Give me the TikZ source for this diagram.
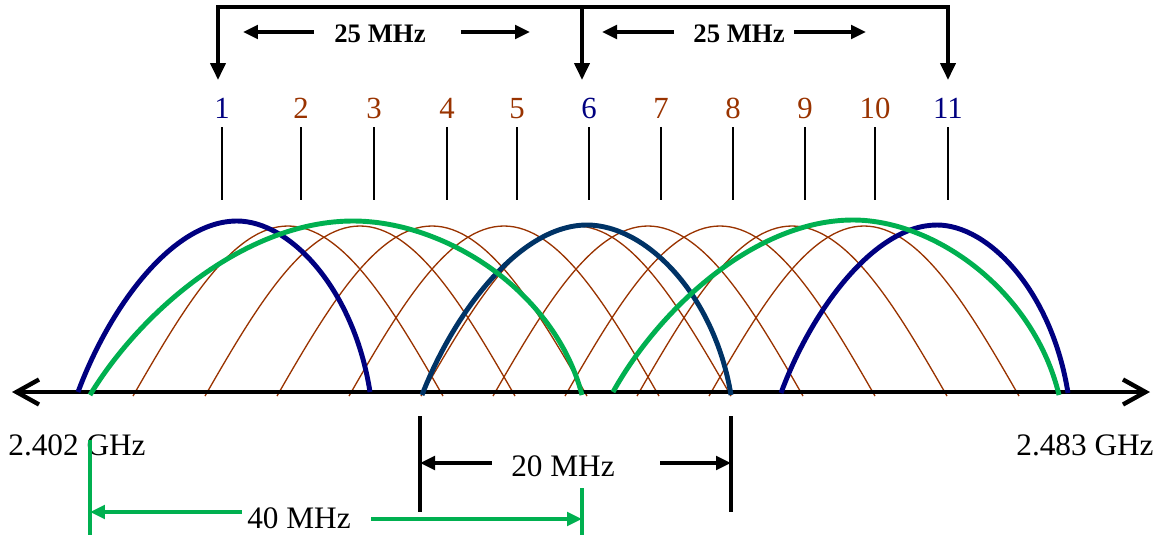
\documentclass[tikz,border=0pt]{standalone}
\usepackage{fontspec}
\setmainfont{Liberation Serif}
\usetikzlibrary{arrows.meta}
\definecolor{chnavy}{RGB}{0,0,128}
\definecolor{chsix}{RGB}{0,51,102}
\definecolor{chgreen}{RGB}{0,176,80}
\definecolor{chbrown}{RGB}{153,51,0}

\begin{document}
\begin{tikzpicture}[
  x=0.02cm, y=-0.02cm,
  num/.style={inner sep=0pt, font=\fontsize{17.5}{20}\selectfont},
  numside/.style={num, text=chbrown},
  numkey/.style={num, text=chnavy},
  lbl/.style={inner sep=0pt, font=\fontsize{17.8}{20}\selectfont},
  lblbold/.style={inner sep=0pt, font=\fontsize{15.2}{18}\selectfont\bfseries},
  tick/.style={line width=1pt},
  thinch/.style={chbrown, line width=0.75pt},
  widech/.style={line width=2.8pt},
  bar/.style={line width=2.2pt},
  bartip/.style={bar, {Triangle[length=3.4mm,width=3mm]}-{Triangle[length=3.4mm,width=3mm]}},
  dim/.style={line width=2.2pt, -{Triangle[length=3mm,width=2.7mm]}},
  bound/.style={line width=2.2pt},
  axis/.style={line width=2.5pt, {Straight Barb[length=4.5mm,width=5mm]}-{Straight Barb[length=4.5mm,width=5mm]}}
]
\useasboundingbox (0,0) rectangle (1157,535);

% channel numbers with their ticks
\node[numkey]  (n1)  at (222,108.5) {1};
\node[numside] (n2)  at (301,108.5) {2};
\node[numside] (n3)  at (374,108.5) {3};
\node[numside] (n4)  at (447,108.5) {4};
\node[numside] (n5)  at (517,108.5) {5};
\node[numkey]  (n6)  at (589,108.5) {6};
\node[numside] (n7)  at (661,108.5) {7};
\node[numside] (n8)  at (733,108.5) {8};
\node[numside] (n9)  at (805,108.5) {9};
\node[numside] (n10) at (875,108.5) {10};
\node[numkey]  (n11) at (948,108.5) {11};

\draw[tick] ([yshift=-1.6mm]n1.south)  -- ++(0,73);
\draw[tick] ([yshift=-1.6mm]n2.south)  -- ++(0,73);
\draw[tick] ([yshift=-1.6mm]n3.south)  -- ++(0,73);
\draw[tick] ([yshift=-1.6mm]n4.south)  -- ++(0,73);
\draw[tick] ([yshift=-1.6mm]n5.south)  -- ++(0,73);
\draw[tick] ([yshift=-1.6mm]n6.south)  -- ++(0,73);
\draw[tick] ([yshift=-1.6mm]n7.south)  -- ++(0,73);
\draw[tick] ([yshift=-1.6mm]n8.south)  -- ++(0,73);
\draw[tick] ([yshift=-1.6mm]n9.south)  -- ++(0,73);
\draw[tick] ([yshift=-1.6mm]n10.south) -- ++(0,73);
\draw[tick] ([yshift=-1.6mm]n11.south) -- ++(0,73);

% 25 MHz bracket over channels 1, 6 and 11
\coordinate (t1)  at (218,7);
\coordinate (t6)  at (582,7);
\coordinate (t11) at (948,7);
\draw[bartip] (t1 |- 0,80) -- (t1) -- (t11) -- (t11 |- 0,80);
\draw[bar, -{Triangle[length=3.4mm,width=3mm]}] (t6) -- ++(0,73);

\node[lblbold] (w1) at (380,34) {25 MHz};
\node[lblbold] (w2) at (739,34) {25 MHz};
\coordinate (a1) at (243,32);
\coordinate (a2) at (530,32);
\coordinate (a3) at (602,32);
\coordinate (a4) at (866,32);
\draw[dim] ([xshift=-4mm]w1.west |- a1) -- (a1);
\draw[dim] ([xshift=7mm]w1.east |- a2)  -- (a2);
\draw[dim] ([xshift=-3.8mm]w2.west |- a3) -- (a3);
\draw[dim] ([xshift=1.8mm]w2.east |- a4) -- (a4);

% thin curves, channels 2 to 10
\draw[thinch] (133,396) .. controls +(50,-87) and +(-56,0) .. ++(155,-170) .. controls +(56,0) and +(-50,-87) .. ++(155,170);
\draw[thinch] (205,396) .. controls +(50,-87) and +(-56,0) .. ++(155,-170) .. controls +(56,0) and +(-50,-87) .. ++(155,170);
\draw[thinch] (277,396) .. controls +(50,-87) and +(-56,0) .. ++(155,-170) .. controls +(56,0) and +(-50,-87) .. ++(155,170);
\draw[thinch] (349,396) .. controls +(50,-87) and +(-56,0) .. ++(155,-170) .. controls +(56,0) and +(-50,-87) .. ++(155,170);
\draw[thinch] (421,396) .. controls +(50,-87) and +(-56,0) .. ++(155,-170) .. controls +(56,0) and +(-50,-87) .. ++(155,170);
\draw[thinch] (493,396) .. controls +(50,-87) and +(-56,0) .. ++(155,-170) .. controls +(56,0) and +(-50,-87) .. ++(155,170);
\draw[thinch] (565,396) .. controls +(50,-87) and +(-56,0) .. ++(155,-170) .. controls +(56,0) and +(-50,-87) .. ++(155,170);
\draw[thinch] (637,396) .. controls +(50,-87) and +(-56,0) .. ++(155,-170) .. controls +(56,0) and +(-50,-87) .. ++(155,170);
\draw[thinch] (709,396) .. controls +(50,-87) and +(-56,0) .. ++(155,-170) .. controls +(56,0) and +(-50,-87) .. ++(155,170);

% frequency axis
\coordinate (ax1) at (12,392);
\coordinate (ax2) at (1150,392);
\draw[axis] (ax1) -- (ax2);

% non-overlapping channels 1, 6, 11 and the two 40 MHz channels
\draw[widech, chnavy] (78,392) .. controls (110,306) and (173,221) .. (237,221) .. controls (290,221) and (354,289) .. (370,392);
\draw[widech, chsix] (422,395) .. controls (455,310) and (521,225) .. (587,225) .. controls (645,225) and (714,293) .. (731,395);
\draw[widech, chnavy] (781,393) .. controls (812,309) and (875,225) .. (937,225) .. controls (989,225) and (1052,292) .. (1068,393);
\draw[widech, chgreen] (90,395) .. controls (143,308) and (248,221) .. (353,221) .. controls (445,221) and (555,291) .. (582,395);
\draw[widech, chgreen] (613,392) .. controls (661,306) and (757,220) .. (853,220) .. controls (935,220) and (1034,291) .. (1059,395);

% band edges
\node[lbl] (f1) at (77,445)   {2.402 GHz};
\node[lbl] (f2) at (1085,445) {2.483 GHz};

% 20 MHz channel width
\coordinate (m1) at (420,416);
\coordinate (m2) at (731,416);
\draw[bound] (m1) -- ++(0,96);
\draw[bound] (m2) -- ++(0,96);
\node[lbl] (w20) at (563,466) {20 MHz};
\coordinate (m1a) at (420,463);
\coordinate (m2a) at (731,463);
\draw[dim] ([xshift=-3.8mm]w20.west |- m1a) -- (m1a);
\draw[dim] ([xshift=9mm]w20.east |- m2a)   -- (m2a);

% 40 MHz channel width
\coordinate (g1) at (90,440);
\coordinate (g2) at (582,488);
\draw[bound, chgreen] (g1) -- ++(0,95);
\draw[bound, chgreen] (g2) -- ++(0,47);
\node[lbl] (w40) at (299,518) {40 MHz};
\coordinate (g1a) at (90,512);
\coordinate (g2a) at (582,519);
\draw[dim, chgreen] ([xshift=-1mm]w40.west |- g1a) -- (g1a);
\draw[dim, chgreen] ([xshift=4mm]w40.east |- g2a)  -- (g2a);

\end{tikzpicture}
\end{document}
